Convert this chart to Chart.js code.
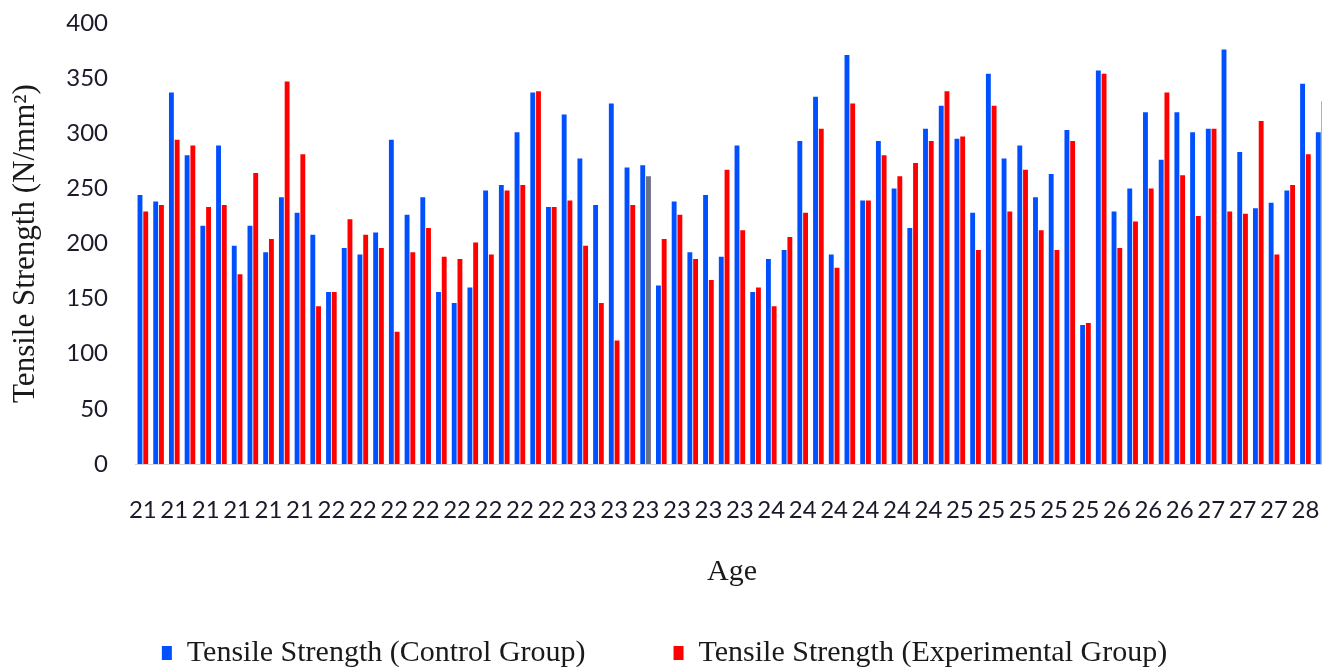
<!DOCTYPE html>
<html>
<head>
<meta charset="utf-8">
<script src="https://cdn.jsdelivr.net/npm/chart.js@4.4.1/dist/chart.umd.min.js"></script>
<style>
  html, body { margin: 0; padding: 0; background: #ffffff; overflow: hidden; }
  #wrap { width: 1322px; height: 667px; overflow: hidden; position: relative; }
  canvas { display: block; }
</style>
</head>
<body>
<div id="wrap"><canvas id="c" width="1330" height="678"></canvas></div>
<script>
// Age of each participant (category axis)
const ages = [
  21,21,21,21,21,21,21,21,21,21,21,21,
  22,22,22,22,22,22,22,22,22,22,22,22,22,22,22,22,
  23,23,23,23,23,23,23,23,23,23,23,23,
  24,24,24,24,24,24,24,24,24,24,24,24,
  25,25,25,25,25,25,25,25,25,25,
  26,26,26,26,26,26,
  27,27,27,27,27,27,
  28,28
];

// Tensile Strength (Control Group), N/mm²
const controlGroup = [
  244,238,337,280,216,289,198,216,192,242,
  228,208,156,196,190,210,294,226,242,156,
  146,160,248,253,301,337,233,317,277,235,
  327,269,271,162,238,192,244,188,289,156,
  186,194,293,333,190,371,239,293,250,214,
  304,325,295,228,354,277,289,242,263,303,
  126,357,229,250,319,276,319,301,304,376,
  283,232,237,248,345,301
];

// Tensile Strength (Experimental Group), N/mm²
const experimentalGroup = [
  229,235,294,289,233,235,172,264,204,347,
  281,143,156,222,208,196,120,192,214,188,
  186,201,190,248,253,338,233,239,198,146,
  112,235,261,204,226,186,167,267,212,160,
  143,206,228,304,178,327,239,280,261,273,
  293,338,297,194,325,229,267,212,194,293,
  128,354,196,220,250,337,262,225,304,229,
  227,311,190,253,281,329
];

const yTicks = { min: 0, max: 400, step: 50 };

const categories = ages.map((a, i) => String(a) + '#' + i);

new Chart(document.getElementById('c'), {
  type: 'bar',
  data: {
    labels: categories,
    datasets: [
      {
        label: 'Tensile Strength (Control Group)',
        data: controlGroup,
        backgroundColor: '#0050ff',
        borderWidth: 0,
        categoryPercentage: 0.73,
        barPercentage: 0.85
      },
      {
        label: 'Tensile Strength (Experimental Group)',
        data: experimentalGroup,
        backgroundColor: (ctx) => (ctx.type === 'data' && ctx.dataIndex === 32) ? 'rgba(70,75,105,0.8)' : '#ff0000',
        borderWidth: 0,
        categoryPercentage: 0.73,
        barPercentage: 0.85
      }
    ]
  },
  options: {
    responsive: false,
    animation: false,
    layout: { padding: { top: 23, right: 1, left: 0, bottom: 0 } },
    plugins: {
      tooltip: { enabled: false },
      legend: {
        position: 'bottom',
        labels: {
          boxWidth: 10,
          boxHeight: 14,
          padding: 88,
          color: '#1a1a1a',
          font: { family: '"Liberation Serif", "Times New Roman", serif', size: 30 }
        }
      }
    },
    scales: {
      x: {
        grid: { display: false, drawTicks: true, tickLength: 32 },
        border: { display: true, color: '#d6d6d6', width: 1 },
        ticks: {
          autoSkip: false,
          maxRotation: 0,
          minRotation: 0,
          padding: 0,
          color: '#1a1a2a',
          font: { family: 'Lato, "Liberation Sans", sans-serif', size: 24 },
          callback: function (value, index) {
            return index % 2 === 0 ? String(ages[index]) : '';
          }
        },
        title: {
          display: true,
          text: 'Age',
          color: '#1a1a1a',
          font: { family: '"Liberation Serif", "Times New Roman", serif', size: 30 },
          padding: { top: 0, bottom: -40 }
        },
        afterFit: function (scale) { scale.height = 86; }
      },
      y: {
        min: yTicks.min,
        max: yTicks.max,
        grid: { display: false, drawTicks: true, tickLength: 27 },
        border: { display: false },
        ticks: {
          stepSize: yTicks.step,
          padding: 0,
          color: '#1a1a2a',
          font: { family: 'Lato, "Liberation Sans", sans-serif', size: 24 }
        },
        title: {
          display: true,
          text: 'Tensile Strength (N/mm²)',
          color: '#1a1a1a',
          font: { family: '"Liberation Serif", "Times New Roman", serif', size: 31 },
          padding: { top: 7, bottom: 0 }
        },
        afterFit: function (scale) { scale.width = 135; }
      }
    }
  }
});
</script>
</body>
</html>
